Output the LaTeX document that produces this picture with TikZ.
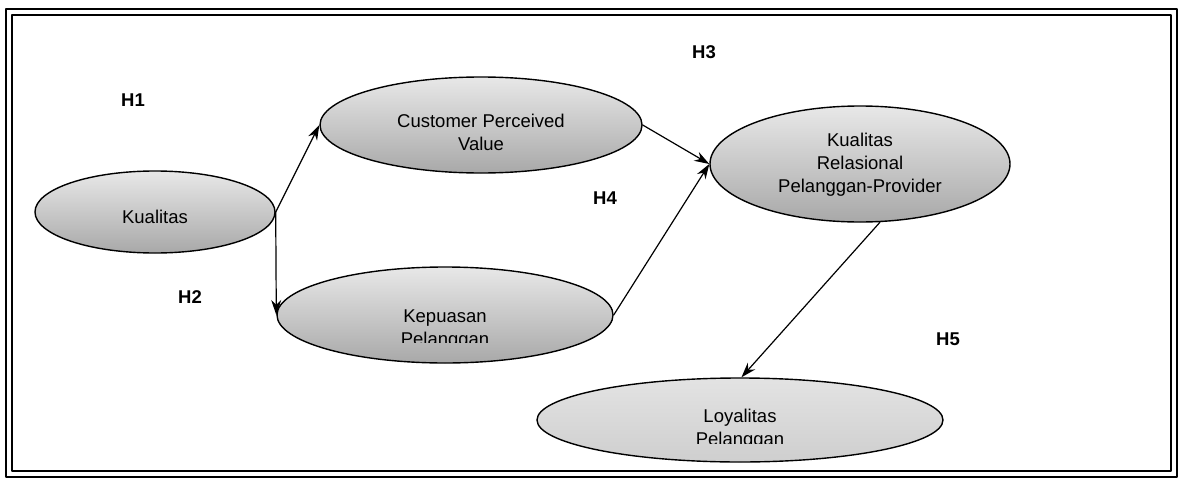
\documentclass[tikz,border=0pt]{standalone}
\usepackage{fontspec}
\setmainfont{Liberation Sans}
\usetikzlibrary{shapes.geometric,arrows.meta}
\begin{document}
\begin{tikzpicture}[x=1pt, y=-1pt, font=\fontsize{18.5}{23}\selectfont, line join=round, line cap=round, >={Stealth[length=15pt,width=10pt]}]
	\tikzset{var/.style={ellipse, draw, line width=1.4pt, inner sep=0pt, top color=gray!18, bottom color=gray!68},
		hyp/.style={font=\bfseries\fontsize{18.5}{23}\selectfont},
		link/.style={->, line width=1.2pt}}
	\useasboundingbox (0,0) rectangle (1181,479);
	% bingkai
	\draw[line width=1.6pt] (6,9) rectangle (1177,477);
	\draw[line width=1.1pt] (12,15) rectangle (1171,471);
	% variabel
	\node[var, minimum width=240, minimum height=82] (kual) at (155,212) {};
	\node[var, minimum width=322, minimum height=96] (cpv) at (481,125) {};
	\node[var, minimum width=336, minimum height=96] (kep) at (445,315) {};
	\node[var, minimum width=300, minimum height=116] (krp) at (860,164) {};
	\node[var, minimum width=406, minimum height=84, top color=gray!22, bottom color=gray!38] (loy) at (740,420) {};
	% teks
	\node (kualt) at (155,217) {Kualitas};
	\node[align=center] (cpvt) at (481,132) {Customer Perceived\\Value};
	\node[align=center] (krpt) at (860,165) {Kualitas\\Relasional\\Pelanggan-Provider};
	\begin{scope}
		\clip (277,280) rectangle (613,342);
		\node[align=center] (kept) at (445,330) {Kepuasan\\Pelanggan};
	\end{scope}
	\begin{scope}
		\clip (537,390) rectangle (943,443);
		\node[align=center] (loyt) at (740,429) {Loyalitas\\Pelanggan};
	\end{scope}
	% hipotesis
	\node[hyp] (h1) at (133,100) {H1};
	\node[hyp] (h2) at (190,297) {H2};
	\node[hyp] (h3) at (704,52) {H3};
	\node[hyp] (h4) at (605,198) {H4};
	\node[hyp] (h5) at (948,339) {H5};
	% panah
	\draw[link] (kual.east) -- (cpv.west);
	\draw[link] (kual.east) -- (kep.west);
	\draw[link] (cpv.east) -- (krp.west);
	\draw[link] (kep.east) -- (krp.west);
	\draw[link] (krp.-71) -- (loy.88);
\end{tikzpicture}
\end{document}
